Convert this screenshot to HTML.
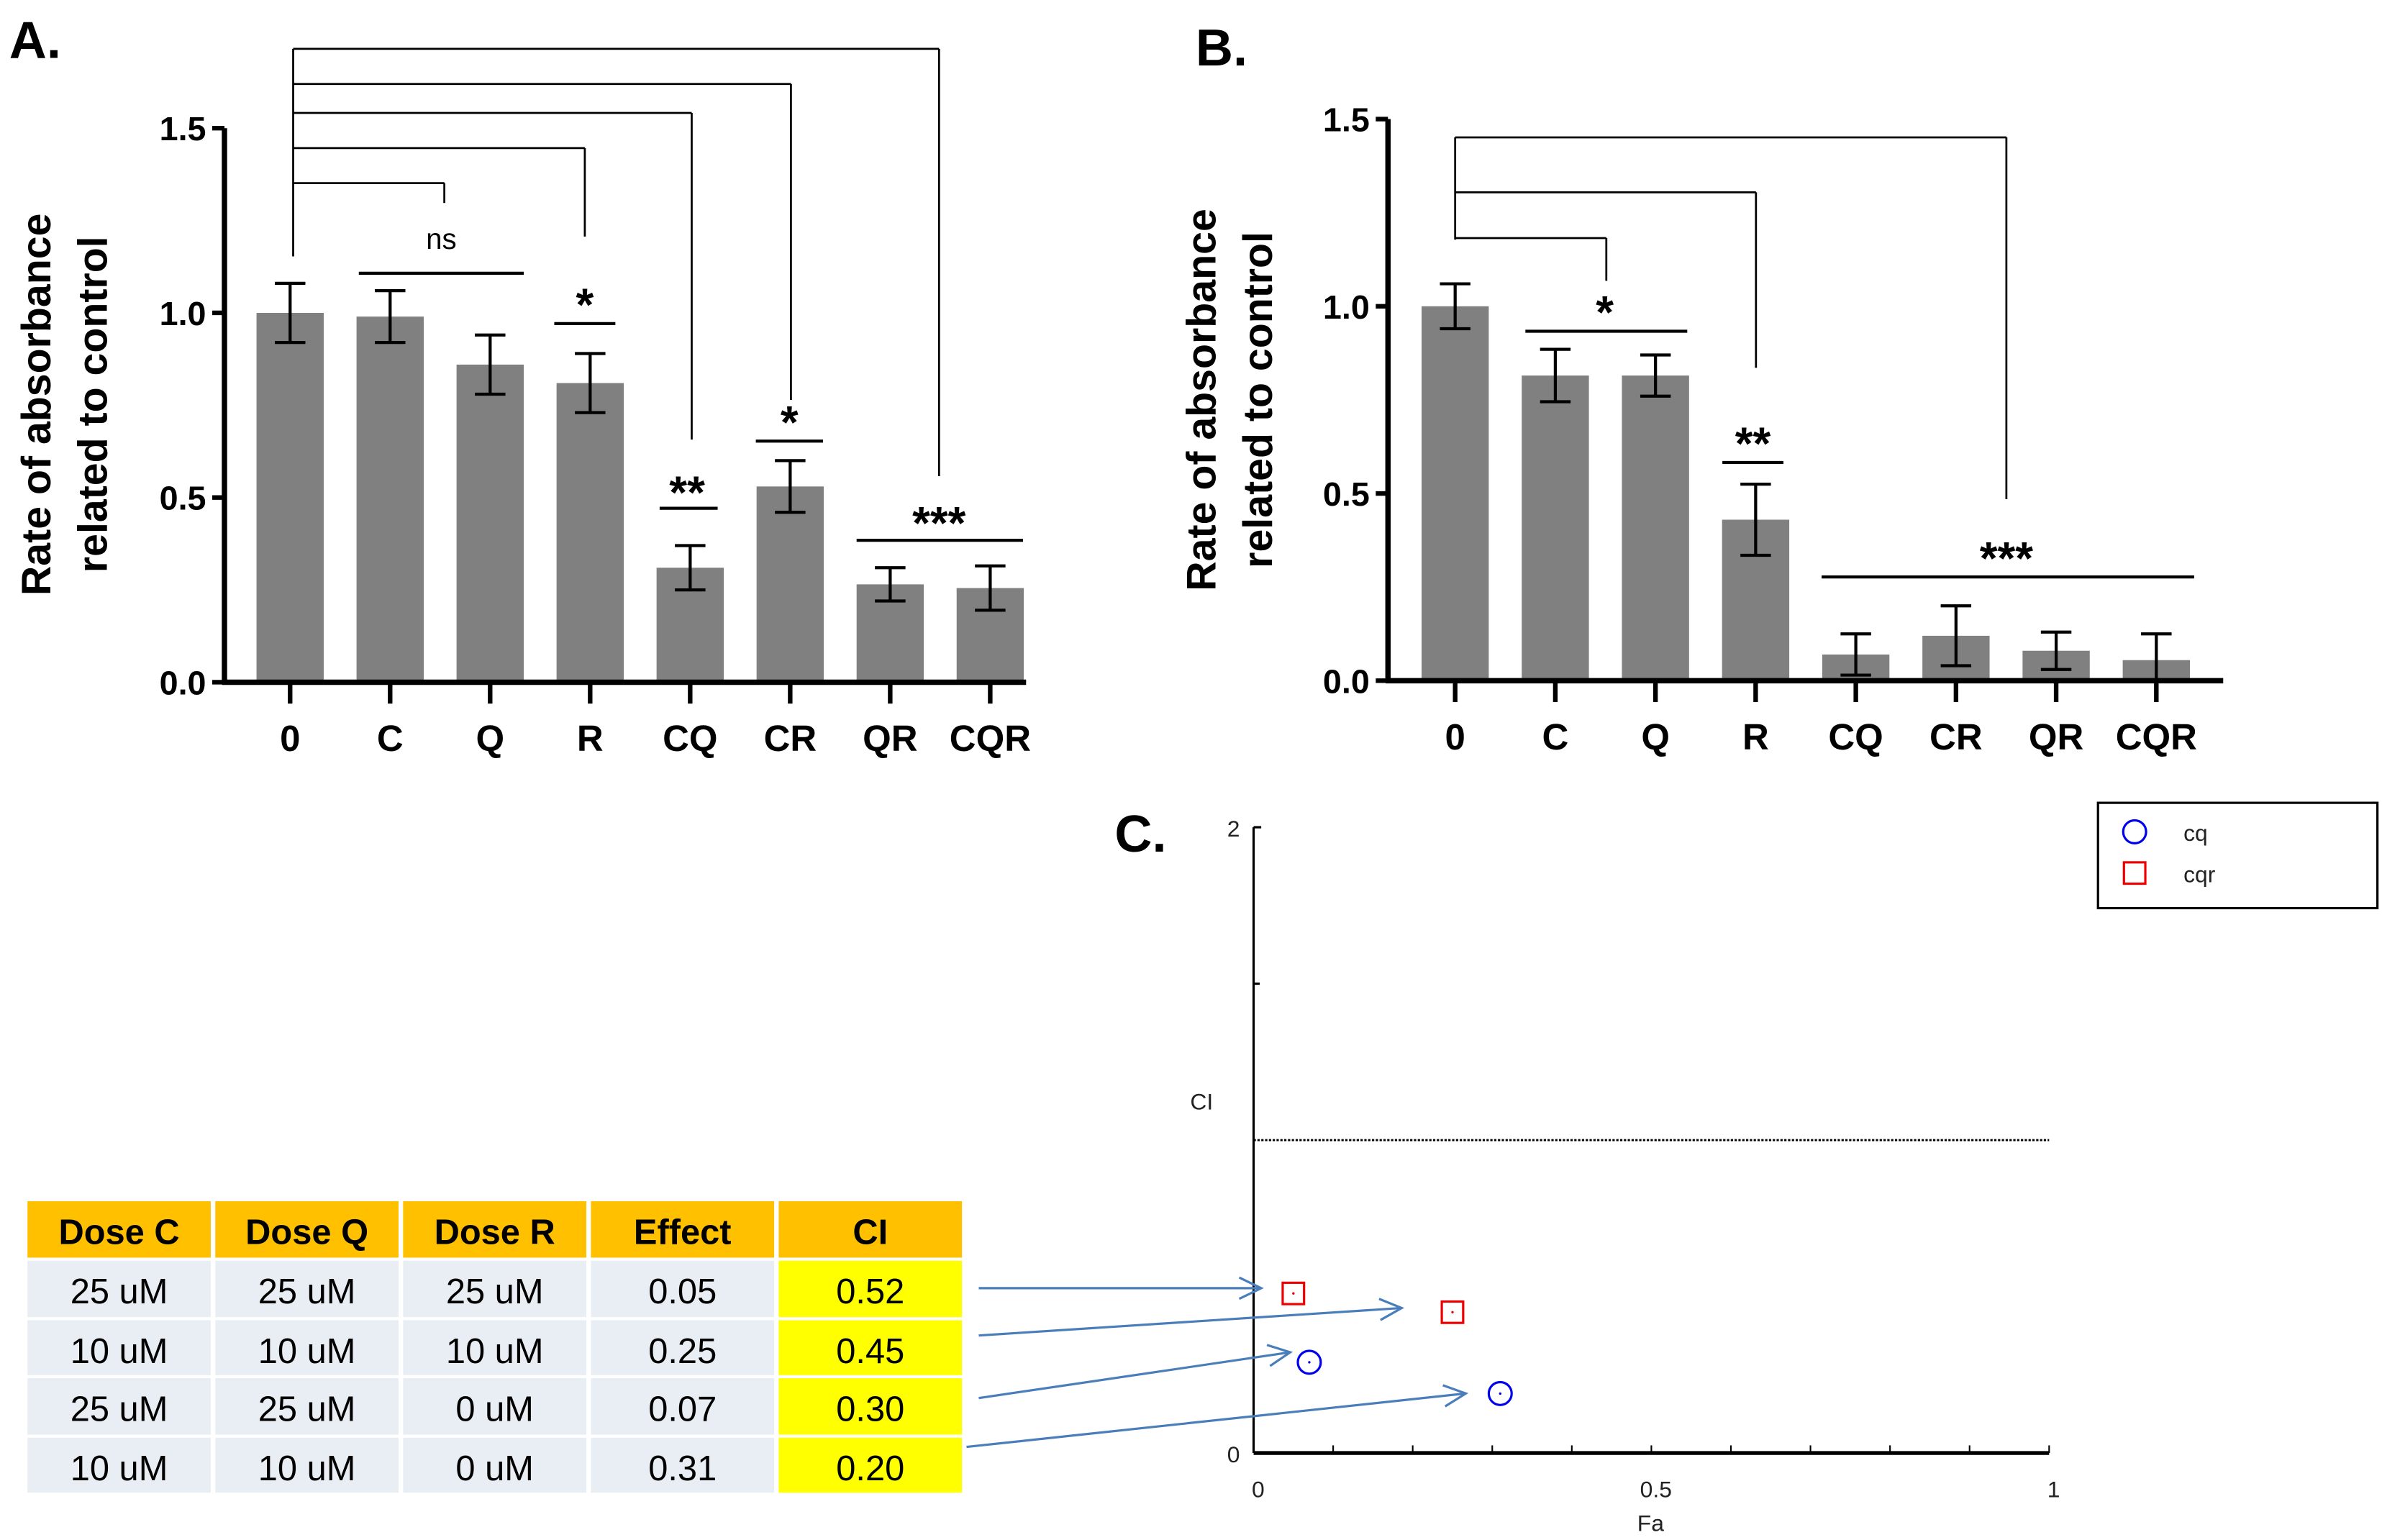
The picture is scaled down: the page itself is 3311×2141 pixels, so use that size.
<!DOCTYPE html>
<html><head><meta charset="utf-8"><style>
html,body{margin:0;padding:0;background:#fff;}
svg{display:block;font-family:"Liberation Sans",sans-serif;}
</style></head><body>
<svg id="fig" width="3311" height="2141" viewBox="0 0 1560 1009" preserveAspectRatio="none" xmlns="http://www.w3.org/2000/svg">
<text x="6" y="38" font-size="34" font-weight="bold">A.</text>
<text x="783" y="43" font-size="34" font-weight="bold">B.</text>
<text x="730" y="558" font-size="34" font-weight="bold">C.</text>
<g id="chartA"></g>
<g id="chartB"></g>
<g id="chartC"></g>
<g id="table"></g>
</svg>
<script>
const NS="http://www.w3.org/2000/svg";
const categories=["0","C","Q","R","CQ","CR","QR","CQR"];
const valuesA=[1.0,0.99,0.86,0.81,0.31,0.53,0.265,0.255];
const errorsA=[0.08,0.07,0.08,0.08,0.06,0.07,0.045,0.06];
const valuesB=[1.0,0.815,0.815,0.43,0.07,0.12,0.08,0.055];
const errorsB=[0.06,0.07,0.055,0.095,0.055,0.08,0.05,0.07];
const yTicks=[0,0.5,1.0,1.5];
const yTickLabels=["0.0","0.5","1.0","1.5"];
const faCq=[0.07,0.31];
const ciCq=[0.29,0.19];
const faCqr=[0.05,0.25];
const ciCqr=[0.51,0.45];
const ciYTicks=[0,2];
const faTicks=[0,0.5,1];
const tableHeader=["Dose C","Dose Q","Dose R","Effect","CI"];
const tableRows=[["25 uM","25 uM","25 uM","0.05","0.52"],["10 uM","10 uM","10 uM","0.25","0.45"],["25 uM","25 uM","0 uM","0.07","0.30"],["10 uM","10 uM","0 uM","0.31","0.20"]];

function el(p,tag,attrs,txt){const e=document.createElementNS(NS,tag);for(const k in attrs)e.setAttribute(k,attrs[k]);if(txt!==undefined)e.textContent=txt;p.appendChild(e);return e;}
function line(p,x1,y1,x2,y2,w,c){return el(p,"line",{x1,y1,x2,y2,stroke:c||"#000","stroke-width":w||1.3});}

function barChart(g,cfg,vals,errs){
  const y=v=>cfg.y0+(cfg.y15-cfg.y0)*v/1.5;
  const x=i=>cfg.x0c+i*cfg.step;
  vals.forEach((v,i)=>{
    const r=el(g,"rect",{x:x(i)-22,y:y(v),width:44,height:cfg.y0-y(v),fill:"#808080"});
    
    
    const e=errs[i];
    const eb=el(g,"g",{});
    
    
    line(eb,x(i),y(v+e),x(i),Math.min(y(v-e),cfg.y0),2);
    line(eb,x(i)-10,y(v+e),x(i)+10,y(v+e),2);
    line(eb,x(i)-10,Math.min(y(v-e),cfg.y0),x(i)+10,Math.min(y(v-e),cfg.y0),2);
  });
  line(g,cfg.ax,cfg.y15,cfg.ax,cfg.y0+1.5,3.5);
  line(g,cfg.ax-1.5,cfg.y0,cfg.xend,cfg.y0,3.5);
  yTicks.forEach((t,i)=>{
    line(g,cfg.ax-8,y(t),cfg.ax,y(t),3);
    const tl=el(g,"text",{x:cfg.ax-12,y:y(t)+8,"font-size":22,"font-weight":"bold","text-anchor":"end"},yTickLabels[i]);
    
    
  });
  categories.forEach((c,i)=>{
    line(g,x(i),cfg.y0,x(i),cfg.y0+14,3);
    const tl=el(g,"text",{x:x(i),y:cfg.y0+45,"font-size":24,"font-weight":"bold","text-anchor":"middle"},c);
    
    
  });
  const tt=el(g,"text",{transform:`translate(${cfg.tx},${cfg.ty}) rotate(-90)`,"font-size":27,"font-weight":"bold","text-anchor":"middle"});
  
  
  el(tt,"tspan",{x:0,dy:0},"Rate of absorbance");
  el(tt,"tspan",{x:0,dy:37},"related to control");
}
const A=document.getElementById("chartA");
barChart(A,{y0:447,y15:84,x0c:190,step:65.5,ax:147,xend:672,tx:33,ty:265},valuesA,errorsA);
const B=document.getElementById("chartB");
barChart(B,{y0:446,y15:78,x0c:953,step:65.6,ax:909,xend:1456,tx:796,ty:262},valuesB,errorsB);

const sA=el(A,"g",{});


line(sA,192,32,192,168);
[[32,615,312],[55,518,262],[74,453,288],[97,383,155],[120,291,133]].forEach(b=>{line(sA,192,b[0],b[1],b[0]);line(sA,b[1],b[0],b[1],b[2]);});
line(sA,235,179,343,179,2);line(sA,363,212,403,212,2);line(sA,432,333,470,333,2);line(sA,495,289,539,289,2);line(sA,561,354,670,354,2);
el(sA,"text",{x:289,y:163,"font-size":19,"text-anchor":"middle"},"ns");
el(sA,"text",{x:383,y:210,"font-size":30,"font-weight":"bold","text-anchor":"middle"},"*");
el(sA,"text",{x:450,y:333,"font-size":30,"font-weight":"bold","text-anchor":"middle"},"**");
el(sA,"text",{x:517,y:287,"font-size":30,"font-weight":"bold","text-anchor":"middle"},"*");
el(sA,"text",{x:615,y:353,"font-size":30,"font-weight":"bold","text-anchor":"middle"},"***");
const sB=el(B,"g",{});


line(sB,953,90,953,157);
[[90,1314,327],[126,1150,241],[156,1052,184]].forEach(b=>{line(sB,953,b[0],b[1],b[0]);line(sB,b[1],b[0],b[1],b[2]);});
line(sB,999,217,1105,217,2);line(sB,1128,303,1168,303,2);line(sB,1193,378,1437,378,2);
el(sB,"text",{x:1051,y:215,"font-size":30,"font-weight":"bold","text-anchor":"middle"},"*");
el(sB,"text",{x:1148,y:301,"font-size":30,"font-weight":"bold","text-anchor":"middle"},"**");
el(sB,"text",{x:1314,y:376,"font-size":30,"font-weight":"bold","text-anchor":"middle"},"***");

const C=document.getElementById("chartC");
const cx=v=>821+v*521, cy=v=>952-v*205;
line(C,821,cy(2),821,cy(0),1.5);
line(C,821,cy(2),826,cy(2),1.5);
line(C,821,cy(1.5),825,cy(1.5),1.5);
line(C,821,cy(0),1342,cy(0),2.5);
for(let i=1;i<=10;i++)line(C,cx(i/10),cy(0),cx(i/10),cy(0)-5,1);
ciYTicks.forEach(t=>{const tl=el(C,"text",{x:812,y:cy(t)+6,"font-size":15,fill:"#222","text-anchor":"end"},String(t));});
faTicks.forEach(t=>{const tl=el(C,"text",{x:cx(t)+3,y:981,"font-size":15,fill:"#222","text-anchor":"middle"},String(t));});
const ft=el(C,"text",{x:1081,y:1003,"font-size":15,fill:"#222","text-anchor":"middle"},"Fa");

const ct=el(C,"text",{x:787,y:727,"font-size":15,fill:"#222","text-anchor":"middle"},"CI");

const ref=el(C,"line",{x1:821,y1:cy(1),x2:1342,y2:cy(1),stroke:"#000","stroke-width":1.3,"stroke-dasharray":"1.5,1"});

faCqr.forEach((f,i)=>{const s=el(C,"rect",{x:cx(f)-7,y:cy(ciCqr[i])-7,width:14,height:14,fill:"none",stroke:"#e00","stroke-width":1.5});el(C,"circle",{cx:cx(f),cy:cy(ciCqr[i]),r:0.8,fill:"#e00"});});
faCq.forEach((f,i)=>{const s=el(C,"circle",{cx:cx(f),cy:cy(ciCq[i]),r:7.5,fill:"none",stroke:"#00e","stroke-width":1.5});el(C,"circle",{cx:cx(f),cy:cy(ciCq[i]),r:0.8,fill:"#00e"});});
const lg=el(C,"g",{});

el(lg,"rect",{x:1374,y:526,width:183,height:69,fill:"#fff",stroke:"#000","stroke-width":1.5});
el(lg,"circle",{cx:1398,cy:545,r:7.5,fill:"none",stroke:"#00e","stroke-width":1.5});
el(lg,"rect",{x:1391,y:565,width:14,height:14,fill:"none",stroke:"#e00","stroke-width":1.5});
el(lg,"text",{x:1430,y:551,"font-size":15,fill:"#222"},"cq");
el(lg,"text",{x:1430,y:578,"font-size":15,fill:"#222"},"cqr");

const T=document.getElementById("table");
const colX=[18,141,264,387,510], colW=120;
const rowY=[787,826,865,903,942], rowH=[37,37,36,37,36];
tableHeader.forEach((h,c)=>{
  el(T,"rect",{x:colX[c],y:rowY[0],width:colW,height:rowH[0],fill:"#FFC000"});
  const t=el(T,"text",{x:colX[c]+colW/2,y:rowY[0]+28,"font-size":23,"font-weight":"bold","text-anchor":"middle"},h);
  
});
tableRows.forEach((row,r)=>{row.forEach((v,c)=>{
  el(T,"rect",{x:colX[c],y:rowY[r+1],width:colW,height:rowH[r+1],fill:c===4?"#FFFF00":"#E9EDF4"});
  const t=el(T,"text",{x:colX[c]+colW/2,y:rowY[r+1]+28,"font-size":23,"text-anchor":"middle"},v);
  
});});
const arrows=[[641,844,826,844],[641,875,918,857],[641,916,845,886],[633,948,960,913]];
arrows.forEach(a=>{
  const g=el(T,"g",{stroke:"#4a7ebb","stroke-width":1.5,fill:"none"});
  
  line(g,a[0],a[1],a[2],a[3],1.5,"#4a7ebb");
  const ang=Math.atan2(a[3]-a[1],a[2]-a[0]),L=16,s=0.45;
  el(g,"polyline",{points:`${a[2]-L*Math.cos(ang-s)},${a[3]-L*Math.sin(ang-s)} ${a[2]},${a[3]} ${a[2]-L*Math.cos(ang+s)},${a[3]-L*Math.sin(ang+s)}`});
});
</script>
</body></html>
